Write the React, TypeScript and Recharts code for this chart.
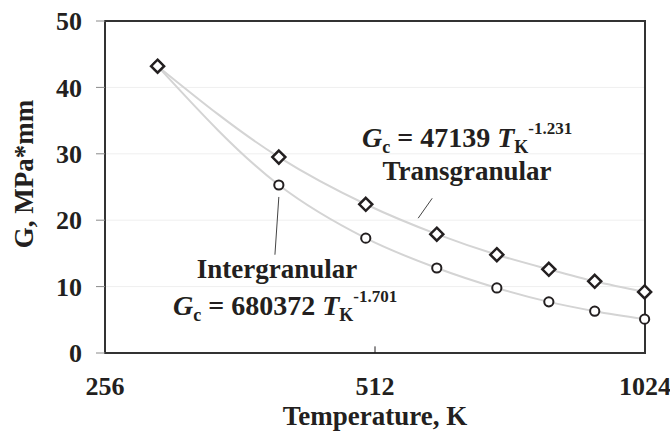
import { LineChart, Line, XAxis, YAxis, CartesianGrid, ReferenceArea, ReferenceLine, Customized } from 'recharts';

document.body.style.margin = '0';

const temperatures = [293, 400, 500, 600, 700, 800, 900, 1023];
const transgranular = [43.2, 29.5, 22.4, 17.9, 14.8, 12.6, 10.8, 9.2];
const intergranular = [43.2, 25.3, 17.3, 12.8, 9.8, 7.7, 6.3, 5.1];
const xTicks = [256, 512, 1024];
const yTicks = [0, 10, 20, 30, 40, 50];

const data = temperatures.map((t, i) => ({ t, trans: transgranular[i], inter: intergranular[i] }));

const font = 'Liberation Serif, DejaVu Serif, serif';
const ink = '#231f20';
const tickStyle = { fontFamily: font, fontSize: 26, fontWeight: 'bold', fill: ink };

const Diamond = (props: any) => {
    const { cx, cy, index } = props;
    if (cx == null || cy == null) return null;
    const r = 6.5;
    return (
        <path key={'d' + index}
            d={`M${cx},${cy - r}L${cx + r},${cy}L${cx},${cy + r}L${cx - r},${cy}Z`}
            fill="#fff" stroke={ink} strokeWidth={2.5} />
    );
};

const Ring = (props: any) => {
    const { cx, cy, index } = props;
    if (cx == null || cy == null) return null;
    return <circle key={'c' + index} cx={cx} cy={cy} r={4.6} fill="#fff" stroke={ink} strokeWidth={2} />;
};

const Annotations = () => (
    <g style={{ fontFamily: font, fontWeight: 'bold' }} fill={ink}>
        <text x={362} y={147} fontSize={28}>
            <tspan fontStyle="italic">G</tspan>
            <tspan fontSize={18} dy={6}>c</tspan>
            <tspan dy={-6}>{' = 47139 '}</tspan>
            <tspan fontStyle="italic">T</tspan>
            <tspan fontSize={18} dy={6}>K</tspan>
            <tspan fontSize={17} dy={-19}>-1.231</tspan>
        </text>
        <text x={467} y={180} fontSize={27} textAnchor="middle">Transgranular</text>
        <text x={277} y={278} fontSize={27} textAnchor="middle">Intergranular</text>
        <text x={173} y={315} fontSize={28}>
            <tspan fontStyle="italic">G</tspan>
            <tspan fontSize={18} dy={6}>c</tspan>
            <tspan dy={-6}>{' = 680372 '}</tspan>
            <tspan fontStyle="italic">T</tspan>
            <tspan fontSize={18} dy={6}>K</tspan>
            <tspan fontSize={17} dy={-19}>-1.701</tspan>
        </text>
        <text x={375} y={425} fontSize={27} textAnchor="middle">Temperature, K</text>
        <text x={0} y={0} fontSize={27} textAnchor="middle" dominantBaseline="central"
            transform="translate(24,174) rotate(-90)">G, MPa*mm</text>
    </g>
);

const App = () => {
    return (
        <LineChart width={670} height={439} data={data} margin={{ top: 21, right: 25, left: 0, bottom: 0 }}>
            <CartesianGrid vertical={false} stroke="#efefef" />
            <XAxis dataKey="t"
                type="number"
                scale="log"
                domain={[256, 1024]}
                ticks={xTicks}
                interval={0}
                height={86}
                axisLine={false}
                tickLine={false}
                tickSize={0}
                tickMargin={24}
                tick={tickStyle} />
            <YAxis type="number"
                domain={[0, 50]}
                ticks={yTicks}
                interval={0}
                width={105}
                axisLine={false}
                tickSize={9}
                tickMargin={14}
                tickLine={{ stroke: '#8a8a8a' }}
                tick={tickStyle} />
            <ReferenceLine segment={[{ x: 512, y: 0 }, { x: 512, y: 1 }]} stroke={ink} strokeWidth={1} />
            <ReferenceLine segment={[{ x: 593, y: 23.3 }, { x: 572, y: 20.3 }]} stroke="#444" strokeWidth={1} />
            <ReferenceLine segment={[{ x: 400, y: 23.5 }, { x: 396, y: 14.8 }]} stroke="#444" strokeWidth={1} />
            <Line type="monotone" dataKey="inter" stroke="#d4d4d4" strokeWidth={2}
                dot={Ring} activeDot={false} isAnimationActive={false} />
            <Line type="monotone" dataKey="trans" stroke="#d4d4d4" strokeWidth={2}
                dot={Diamond} activeDot={false} isAnimationActive={false} />
            <ReferenceArea x1={256} x2={1024} y1={0} y2={50} fill="none" fillOpacity={0}
                stroke="#333" strokeWidth={2} />
            <Customized component={Annotations} />
        </LineChart>
    );
};

export default App;
